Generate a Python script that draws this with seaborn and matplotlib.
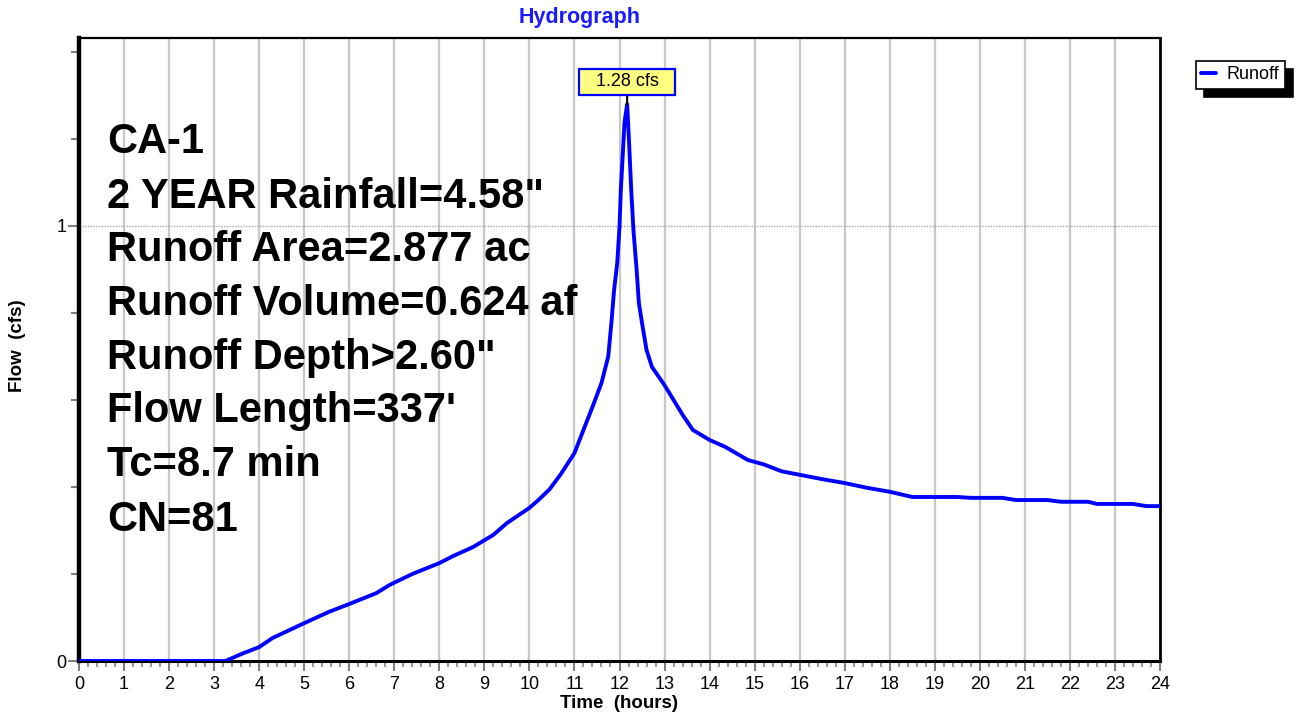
import numpy as np
import pandas as pd
import matplotlib
matplotlib.use("Agg")
import matplotlib.pyplot as plt
from matplotlib.path import Path
from matplotlib.ticker import FixedLocator
import seaborn as sns

# Runoff hydrograph (time in hours, flow in cfs)
time_hr = [0.0, 3.25, 3.65, 4.0, 4.3, 5.0, 5.55, 6.0, 6.6, 6.9, 7.4, 8.0, 8.3, 8.75,
           9.2, 9.5, 10.0, 10.2, 10.45, 10.7, 11.0, 11.2, 11.4, 11.6, 11.75, 11.82,
           11.88, 11.95, 12.0, 12.03, 12.07, 12.11, 12.17, 12.21, 12.26, 12.31, 12.38,
           12.43, 12.5, 12.6, 12.72, 12.86, 13.0, 13.2, 13.4, 13.63, 14.0, 14.35,
           14.85, 15.2, 15.6, 16.0, 16.5, 17.0, 17.5, 18.0, 18.5, 19.5, 19.8, 20.5,
           20.8, 21.5, 21.8, 22.4, 22.6, 23.4, 23.7, 24.0]
flow_cfs = [0.0, 0.0, 0.018, 0.032, 0.053, 0.087, 0.113, 0.131, 0.156, 0.175, 0.20,
            0.225, 0.241, 0.262, 0.29, 0.317, 0.352, 0.37, 0.395, 0.43, 0.478, 0.531,
            0.584, 0.639, 0.70, 0.777, 0.853, 0.915, 0.998, 1.083, 1.159, 1.237, 1.28,
            1.198, 1.083, 0.99, 0.90, 0.823, 0.777, 0.715, 0.676, 0.655, 0.634, 0.60,
            0.566, 0.531, 0.508, 0.492, 0.462, 0.452, 0.436, 0.428, 0.418, 0.409,
            0.398, 0.389, 0.377, 0.377, 0.375, 0.375, 0.370, 0.370, 0.366, 0.366,
            0.361, 0.361, 0.356, 0.356]

peak_label = "1.28 cfs"
peak_flow = 1.28
peak_time = 12.17

x_ticks = list(range(0, 25))
x_tick_labels = [str(h) for h in x_ticks]
y_ticks = [0, 1]
y_tick_labels = ["0", "1"]

info_lines = ["CA-1", "2 YEAR Rainfall=4.58\"", "Runoff Area=2.877 ac",
              "Runoff Volume=0.624 af", "Runoff Depth>2.60\"", "Flow Length=337'",
              "Tc=8.7 min", "CN=81"]

df = pd.DataFrame({"Time": time_hr, "Flow": flow_cfs})

sns.set_style("white")
plt.rcParams["font.family"] = ["Liberation Sans", "DejaVu Sans"]
plt.rcParams["text.color"] = "black"
plt.rcParams["axes.labelcolor"] = "black"
plt.rcParams["xtick.color"] = "black"
plt.rcParams["ytick.color"] = "black"


def wide_box(x0, y0, width, height, mutation_size):
    """Rectangular label box with more padding left/right than top/bottom."""
    px = 0.9 * mutation_size
    py = 0.25 * mutation_size
    x0, y0 = x0 - px, y0 - py
    x1, y1 = x0 + width + 2 * px, y0 + height + 2 * py
    return Path([(x0, y0), (x1, y0), (x1, y1), (x0, y1), (x0, y0)], closed=True)


W, H = 1300, 719
fig = plt.figure(figsize=(W / 100, H / 100), dpi=100)
ax = fig.add_axes([79 / W, 1 - 661 / H, (1160 - 79) / W, (661 - 38) / H])

sns.lineplot(data=df, x="Time", y="Flow", ax=ax, color="#0000ff", lw=2.8,
             label="Runoff", legend=False, zorder=5)

ax.set_xlim(0, 24)
ax.set_ylim(0, 1.432)

ax.set_xticks(x_ticks)
ax.set_xticklabels(x_tick_labels)
ax.xaxis.set_minor_locator(FixedLocator(np.arange(0, 24.01, 0.2)))
ax.set_yticks(y_ticks)
ax.set_yticklabels(y_tick_labels)
ax.yaxis.set_minor_locator(FixedLocator([0.2, 0.4, 0.6, 0.8, 1.2, 1.4]))

# grid: vertical lines each hour, dotted horizontal at 1
for h in x_ticks[1:-1]:
    ax.axvline(h, color="#c8c8c8", lw=1.6, zorder=1)
ax.axhline(1, color="#a8a8a8", lw=1.0, ls=(0, (1, 1)), zorder=1)

ax.tick_params(axis="both", which="both", bottom=True, left=True, top=False, right=False)
ax.tick_params(axis="x", which="major", direction="out", length=7, width=1.5,
               color="#808080", labelsize=13, pad=4, labelcolor="black")
ax.tick_params(axis="x", which="minor", direction="out", length=4, width=1.2,
               color="#808080")
ax.tick_params(axis="y", which="major", direction="out", length=8, width=1.5,
               color="#808080", labelsize=13, pad=1, labelcolor="black")
ax.tick_params(axis="y", which="minor", direction="out", length=6, width=1.5,
               color="#808080")

for side, lw in [("left", 3.2), ("top", 1.6), ("right", 2.0), ("bottom", 2.2)]:
    ax.spines[side].set_visible(True)
    ax.spines[side].set_color("black")
    ax.spines[side].set_linewidth(lw)

ax.set_xlabel("Time  (hours)", fontsize=13.5, fontweight="bold", labelpad=1)
ax.set_ylabel("")
fig.text(18 / W, 1 - 346 / H, "Flow  (cfs)", rotation=90, fontsize=13.5,
         fontweight="bold", ha="center", va="center")

fig.text(580 / W, 1 - 18 / H, "Hydrograph", color="#1a1aff", fontsize=15.5,
         fontweight="bold", ha="center", va="center")

# peak callout
ax.annotate(peak_label, xy=(peak_time, peak_flow), xytext=(peak_time, 1.331),
            ha="center", va="center", fontsize=13,
            bbox=dict(boxstyle=wide_box, fc="#ffff80", ec="#0000ff", lw=1.6),
            arrowprops=dict(arrowstyle="-", color="black", lw=1.5, shrinkA=0, shrinkB=0),
            zorder=6)

# runoff summary text
line_y = [142, 197, 250, 304, 358, 411, 465, 520]
for txt, yy in zip(info_lines, line_y):
    fig.text(107 / W, 1 - yy / H, txt, fontsize=30, fontweight="bold",
             ha="left", va="center", color="black")

leg = fig.legend(handles=ax.get_lines()[:1], labels=["Runoff"],
                 loc="upper left", bbox_to_anchor=(1196 / W, 1 - 61 / H),
                 frameon=True, fancybox=False, edgecolor="black", fontsize=13,
                 handlelength=0.8, handletextpad=0.6, borderpad=0.3,
                 borderaxespad=0.0,
                 shadow={"color": "black", "alpha": 1.0, "ox": 6, "oy": -6})
leg.get_frame().set_linewidth(1.2)

fig.savefig("out.png", dpi=100)
